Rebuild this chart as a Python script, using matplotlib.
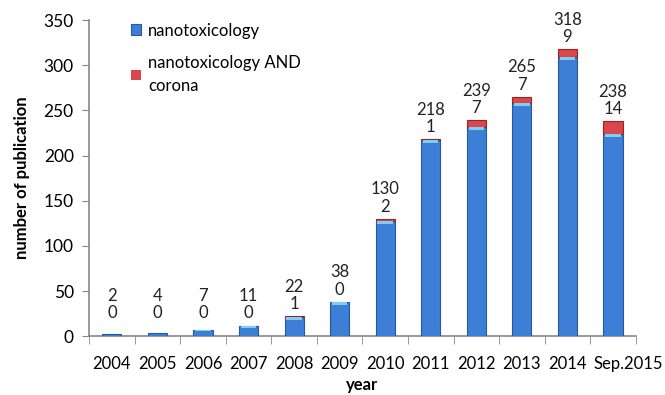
import matplotlib
matplotlib.use('Agg')
from matplotlib import pyplot as plt
import matplotlib.transforms as mtransforms
import numpy as np

years = ['2004', '2005', '2006', '2007', '2008', '2009', '2010',
         '2011', '2012', '2013', '2014', 'Sep.2015']
nanotox = [2, 4, 7, 11, 22, 38, 130, 218, 239, 265, 318, 238]
corona = [0, 0, 0, 0, 1, 0, 2, 1, 7, 7, 9, 14]

plt.rcParams['font.family'] = ['Lato', 'DejaVu Sans']

fig = plt.figure(figsize=(6.65, 3.95), dpi=100)
ax = fig.add_axes([0.134, 0.149, 0.822, 0.800])

x = np.arange(len(years))
blue_part = [n - c for n, c in zip(nanotox, corona)]
ax.bar(x, blue_part, width=0.42, color='#3d7fd6', edgecolor='#2759a3',
       linewidth=0.8, label='nanotoxicology', zorder=3)
red_lw = [0.8 if c > 0 else 0 for c in corona]
ax.bar(x, corona, width=0.42, bottom=blue_part, color='#d9474a',
       edgecolor='#9a2226', linewidth=red_lw, label='nanotoxicology AND\ncorona', zorder=3)

# light cap on top of the blue part
for i, b in enumerate(blue_part):
    if b > 3:
        h = min(3.5, b * 0.15)
        ax.bar(i, h, width=0.34, bottom=b - h, color='#80cdf3', linewidth=0, zorder=4)

for i in range(len(years)):
    ax.annotate('%d\n%d' % (nanotox[i], corona[i]),
                xy=(i, max(nanotox[i], 12)), xytext=(0, 3),
                textcoords='offset points', ha='center', va='bottom',
                fontsize=12, linespacing=1.1, color='#222222')

ax.set_xlim(-0.5, len(years) - 0.5)
ax.set_ylim(0, 350)
ax.set_yticks(range(0, 351, 50))
ax.set_xticks(x)
ax.set_xticklabels(years)
ax.set_xticks(np.arange(-0.5, len(years), 1), minor=True)
ax.tick_params(axis='x', which='major', length=0, pad=14, labelsize=12)
ax.tick_params(axis='x', which='minor', length=6, color='#888888', direction='out')
ax.tick_params(axis='y', length=5, color='#888888', labelsize=12.5, pad=6)

# last label sits shifted to the right, like the original
last = ax.get_xticklabels()[-1]
last.set_transform(last.get_transform() +
                   mtransforms.ScaledTranslation(0.15, 0, fig.dpi_scale_trans))

for s in ['top', 'right']:
    ax.spines[s].set_visible(False)
for s in ['left', 'bottom']:
    ax.spines[s].set_color('#888888')
    ax.spines[s].set_linewidth(1.2)

ax.set_ylabel('number of publication', fontsize=12, fontweight='bold', labelpad=10)
ax.set_xlabel('year', fontsize=12, fontweight='bold', labelpad=4)

leg = ax.legend(loc='upper left', bbox_to_anchor=(0.05, 1.04), frameon=False,
                fontsize=12, handlelength=0.6, handleheight=0.6, handletextpad=0.4,
                labelspacing=1.0)
for t in leg.get_texts():
    t.set_linespacing(1.5)

plt.savefig('out.png', dpi=100)
